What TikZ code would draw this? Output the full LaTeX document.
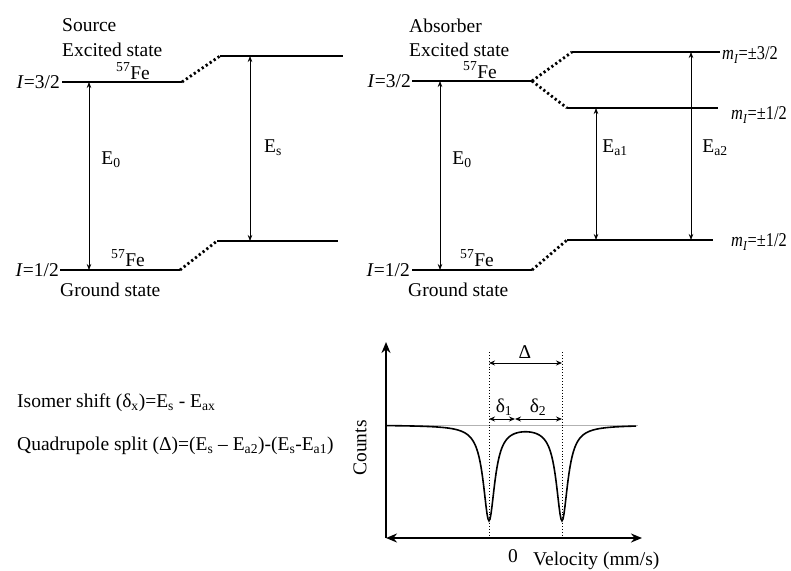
\documentclass[tikz,border=0pt]{standalone}
\usepackage{fontspec}
\setmainfont{Liberation Serif}
\usetikzlibrary{arrows.meta}
\begin{document}
\begin{tikzpicture}[x=1pt,y=-1pt,
  level/.style={line width=2.8pt},
  link/.style={line width=2.8pt, dash pattern=on 2.2pt off 2.6pt},
  trans/.style={line width=0.7pt,{Stealth[length=6pt,width=4.5pt]}-{Stealth[length=6pt,width=4.5pt]}},
  lbl/.style={inner sep=0pt, font=\fontsize{19.5}{22}\selectfont},
  mlbl/.style={lbl, anchor=west, xscale=0.84, transform shape},
  axis/.style={line width=2.4pt,{Stealth[length=11pt,width=9pt]}-{Stealth[length=11pt,width=9pt]}},
  yaxis/.style={line width=2.4pt,-{Stealth[length=11pt,width=9pt]}},
  guide/.style={line width=0.9pt, dotted},
  dim/.style={line width=0.9pt,{Stealth[length=6pt,width=5pt]}-{Stealth[length=6pt,width=5pt]}},
  spec/.style={line width=1.6pt}
]
\useasboundingbox (0,0) rectangle (791,570);
% ---------------- Source ----------------
\coordinate (s3a) at (62,82);  \coordinate (s3b) at (182,82);
\coordinate (s1a) at (60,270); \coordinate (s1b) at (180,270);
\coordinate (S3a) at (220,56); \coordinate (S3b) at (343,56);
\coordinate (S1a) at (217,241);\coordinate (S1b) at (338,241);
\draw[level] (s3a) -- (s3b);
\draw[level] (s1a) -- (s1b);
\draw[level] (S3a) -- (S3b);
\draw[level] (S1a) -- (S1b);
\draw[link] (s3b) -- (S3a);
\draw[link] (s1b) -- (S1a);
\coordinate (e0t) at (89,82); \coordinate (e0b) at (89,270);
\draw[trans] (e0t) -- (e0b);
\coordinate (est) at (250,56); \coordinate (esb) at (250,241);
\draw[trans] (est) -- (esb);
\node[lbl,anchor=west] (src) at (62,25) {Source};
\node[lbl,anchor=west] (exs) at (62,50) {Excited state};
\node[lbl,anchor=base] (fe1) at (133,79) {\textsuperscript{57}Fe};
\node[lbl,anchor=base] (fe2) at (128,266) {\textsuperscript{57}Fe};
\node[lbl,anchor=east] (i3) at (60,82) {\textit{I}=3/2};
\node[lbl,anchor=east] (i1) at (59,270) {\textit{I}=1/2};
\node[lbl,anchor=west] (gs) at (60,290) {Ground state};
\node[lbl] (le0) at (111,160) {E\textsubscript{0}};
\node[lbl] (les) at (273,148) {E\textsubscript{s}};
% ---------------- Absorber ----------------
\coordinate (a3a) at (412,81);  \coordinate (a3b) at (532,81);
\coordinate (a1a) at (412,270); \coordinate (a1b) at (532,270);
\coordinate (A3a) at (572,52);  \coordinate (A3b) at (720,52);
\coordinate (A2a) at (567,108); \coordinate (A2b) at (718,108);
\coordinate (A1a) at (567,240); \coordinate (A1b) at (713,240);
\draw[level] (a3a) -- (a3b);
\draw[level] (a1a) -- (a1b);
\draw[level] (A3a) -- (A3b);
\draw[level] (A2a) -- (A2b);
\draw[level] (A1a) -- (A1b);
\draw[link] (a3b) -- (A3a);
\draw[link] (a3b) -- (A2a);
\draw[link] (a1b) -- (A1a);
\coordinate (f0t) at (440,81); \coordinate (f0b) at (440,270);
\draw[trans] (f0t) -- (f0b);
\coordinate (ea1t) at (596,108); \coordinate (ea1b) at (596,240);
\draw[trans] (ea1t) -- (ea1b);
\coordinate (ea2t) at (691,52); \coordinate (ea2b) at (691,240);
\draw[trans] (ea2t) -- (ea2b);
\node[lbl,anchor=west] (abs) at (409,26) {Absorber};
\node[lbl,anchor=west] (exa) at (409,50) {Excited state};
\node[lbl,anchor=base] (fe3) at (480,78) {\textsuperscript{57}Fe};
\node[lbl,anchor=base] (fe4) at (477,266) {\textsuperscript{57}Fe};
\node[lbl,anchor=east] (j3) at (411,81) {\textit{I}=3/2};
\node[lbl,anchor=east] (j1) at (410,270) {\textit{I}=1/2};
\node[lbl,anchor=west] (ga) at (408,290) {Ground state};
\node[lbl] (lf0) at (462,160) {E\textsubscript{0}};
\node[lbl] (lea1) at (615,148) {E\textsubscript{a1}};
\node[lbl] (lea2) at (715,148) {E\textsubscript{a2}};
\node[mlbl] (m3) at (722,55) {\textit{m}\textsubscript{\textit{I}}=±3/2};
\node[mlbl] (m2) at (731,115) {\textit{m}\textsubscript{\textit{I}}=±1/2};
\node[mlbl] (m1) at (731,242) {\textit{m}\textsubscript{\textit{I}}=±1/2};
% ---------------- Formulas ----------------
\node[lbl,anchor=base west] (iso) at (17,407) {Isomer shift (δ\textsubscript{x})=E\textsubscript{s} - E\textsubscript{ax}};
\node[lbl,anchor=base west] (quad) at (17,450) {Quadrupole split (Δ)=(E\textsubscript{s} – E\textsubscript{a2})-(E\textsubscript{s}-E\textsubscript{a1})};
% ---------------- Spectrum ----------------
\coordinate (org) at (386,538);
\coordinate (ytop) at (386,342);
\coordinate (xl) at (386,538);
\coordinate (xr) at (642,538);
\draw[axis] (xl) -- (xr);
\draw[yaxis] (org) -- (ytop);
\draw[gray!60, line width=0.4pt] (386,425) -- (638,425);
\draw[spec] plot[domain=386:636, samples=251] (\x, {425 + 95*(0.49/(((\x-489)/10)^2+0.49) + 0.49/(((\x-562)/10)^2+0.49))});
\coordinate (g1t) at (489,352); \coordinate (g1b) at (489,538);
\coordinate (g2t) at (562,352); \coordinate (g2b) at (562,538);
\draw[guide] (g1t) -- (g1b);
\draw[guide] (g2t) -- (g2b);
\coordinate (dl) at (489,363); \coordinate (dr) at (562,363);
\draw[dim] (dl) -- (dr);
\coordinate (d1l) at (489,419); \coordinate (d1m) at (515,419); \coordinate (d2r) at (562,419);
\draw[dim] (d1l) -- (d1m);
\draw[dim] (d1m) -- (d2r);
\node[lbl] (lD) at (525,352) {Δ};
\node[lbl] (ld1) at (504,407) {δ\textsubscript{1}};
\node[lbl] (ld2) at (538,407) {δ\textsubscript{2}};
\node[lbl,rotate=90] (cnt) at (360,448) {Counts};
\node[lbl] (zero) at (513,556) {0};
\node[lbl,anchor=west] (vel) at (533,561) {Velocity (mm/s)};
\end{tikzpicture}
\end{document}
